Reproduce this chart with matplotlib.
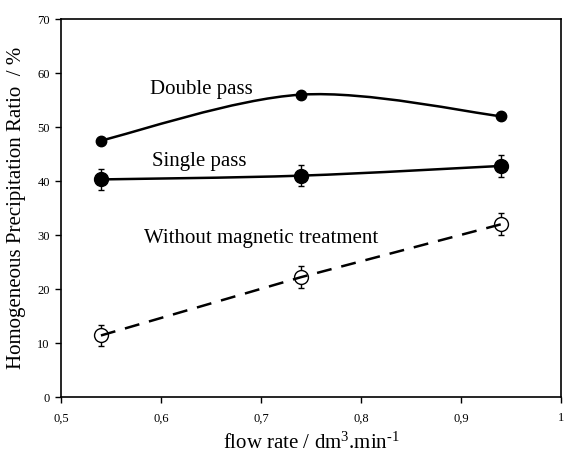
import numpy as np
import matplotlib
matplotlib.use("Agg")
import matplotlib.pyplot as plt
from matplotlib.path import Path
from matplotlib.patches import PathPatch

flow = [0.54, 0.74, 0.94]
double_pass = [47.5, 56.0, 52.0]
single_pass = [40.3, 41.0, 42.8]
single_err = [2.0, 2.0, 2.0]
without = [11.4, 22.2, 32.0]
without_err = [2.0, 2.0, 2.0]
xticks = [0.5, 0.6, 0.7, 0.8, 0.9, 1.0]
xticklabels = ["0,5", "0,6", "0,7", "0,8", "0,9", "1"]
yticks = [0, 10, 20, 30, 40, 50, 60, 70]

plt.rcParams['font.family'] = ['Liberation Serif', 'DejaVu Serif']
plt.rcParams['mathtext.fontset'] = 'custom'
plt.rcParams['mathtext.rm'] = 'Liberation Serif'
plt.rcParams['mathtext.it'] = 'Liberation Serif:italic'

fig = plt.figure(figsize=(5.64, 4.59), dpi=100)
ax = fig.add_axes([0.108, 0.135, 0.887, 0.8235])


def smooth_path(xs, ys):
    pts = np.column_stack([xs, ys]).astype(float)
    n = len(pts)
    verts = [pts[0]]
    codes = [Path.MOVETO]
    for i in range(n - 1):
        p0 = pts[i - 1] if i > 0 else pts[i]
        p1 = pts[i]
        p2 = pts[i + 1]
        p3 = pts[i + 2] if i + 2 < n else pts[i + 1]
        c1 = p1 + (p2 - p0) / 6.0
        c2 = p2 - (p3 - p1) / 6.0
        verts += [c1, c2, p2]
        codes += [Path.CURVE4] * 3
    return Path(verts, codes)


ax.add_patch(PathPatch(smooth_path(flow, double_pass), fill=False, lw=1.8, color='black', zorder=2))
ax.plot(flow, double_pass, 'o', color='black', ms=7.5, zorder=3)

ax.add_patch(PathPatch(smooth_path(flow, single_pass), fill=False, lw=1.8, color='black', zorder=2))
ax.errorbar(flow, single_pass, yerr=single_err, fmt='o', color='black', ms=10,
            capsize=2.5, elinewidth=1, capthick=1, zorder=3)

ax.errorbar(flow, without, yerr=without_err, fmt='o', color='black', mfc='white',
            ms=10, mew=1, capsize=2.5, elinewidth=1, capthick=1, zorder=3)
ax.plot(flow, without, color='black', lw=1.8, dashes=(6, 4), zorder=4)

ax.text(0.589, 57.0, "Double pass", fontsize=15, va='center', ha='left')
ax.text(0.591, 43.7, "Single pass", fontsize=15, va='center', ha='left')
ax.text(0.583, 29.4, "Without magnetic treatment", fontsize=15, va='center', ha='left')

ax.set_xlim(0.5, 1.0)
ax.set_ylim(0, 70)
ax.set_xticks(xticks)
ax.set_xticklabels(xticklabels)
ax.set_yticks(yticks)
ax.tick_params(direction='out', length=4, width=1, labelsize=9, pad=7)
ax.tick_params(axis='y', pad=4)
for s in ax.spines.values():
    s.set_linewidth(1.2)

ax.set_xlabel("flow rate / dm$^{3}$.min$^{\u20101}$", fontsize=15, labelpad=6)
ax.set_ylabel("Homogeneous Precipitation Ratio  / %", fontsize=15, labelpad=8)

fig.savefig("out.png", dpi=100)
